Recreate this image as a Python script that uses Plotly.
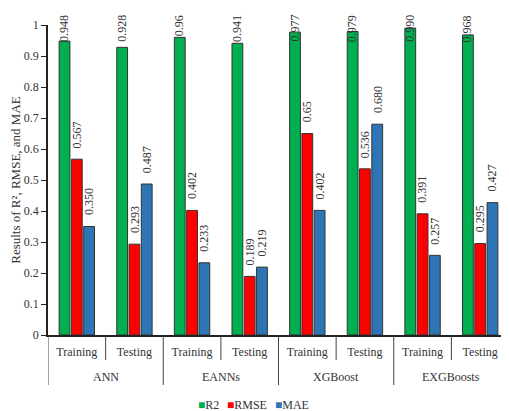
import plotly.graph_objects as go

models = ["ANN", "EANNs", "XGBoost", "EXGBoosts"]
phases = ["Training", "Testing"]
r2 = [0.948, 0.928, 0.96, 0.941, 0.977, 0.979, 0.990, 0.968]
rmse = [0.567, 0.293, 0.402, 0.189, 0.65, 0.536, 0.391, 0.295]
mae = [0.350, 0.487, 0.233, 0.219, 0.402, 0.680, 0.257, 0.427]
r2_labels = ["0.948", "0.928", "0.96", "0.941", "0.977", "0.979", "0.990", "0.968"]
rmse_labels = ["0.567", "0.293", "0.402", "0.189", "0.65", "0.536", "0.391", "0.295"]
mae_labels = ["0.350", "0.487", "0.233", "0.219", "0.402", "0.680", "0.257", "0.427"]
yticks = [0, 0.1, 0.2, 0.3, 0.4, 0.5, 0.6, 0.7, 0.8, 0.9, 1]
series_names = ["R2", "RMSE", "MAE"]
series_colors = ["#00B050", "#FF0000", "#2E75B6"]

inner = [p for _ in models for p in phases]
xpos = list(range(len(inner)))
n = len(inner)
y_min, y_max = 0, 1

font_family = "Liberation Serif, Times New Roman, serif"
txt_color = "#333"
series = list(zip(series_names, [r2, rmse, mae], [r2_labels, rmse_labels, mae_labels], series_colors))

# bar geometry (data units of the category axis)
group_w = 0.64
slot = group_w / len(series)
bar_w = slot * 0.88
plot_h_px = 310.0
label_gap = 9 / plot_h_px
char_len = 5.4 / plot_h_px
label_cap = 1 + 12 / plot_h_px


def to_paper(v):
    return (v - y_min) / (y_max - y_min)


fig = go.Figure()
annotations = []
for si, (name, vals, labels, color) in enumerate(series):
    off = -group_w / 2 + si * slot + (slot - bar_w) / 2
    fig.add_trace(go.Bar(
        x=xpos, y=vals, name=name, width=bar_w, offset=off,
        marker=dict(color=color, line=dict(color="#333", width=1)),
        showlegend=False, hoverinfo="x+y+name",
    ))
    for xi, v, lab in zip(xpos, vals, labels):
        cx = xi + off + bar_w / 2
        bottom = to_paper(v) + label_gap
        if bottom + char_len * len(lab) > label_cap:
            y, anchor = label_cap, "top"
        else:
            y, anchor = bottom, "bottom"
        annotations.append(dict(
            x=cx, y=y, xref="x", yref="paper", text=lab, textangle=-90,
            showarrow=False, xanchor="center", yanchor=anchor,
            font=dict(family=font_family, size=12, color=txt_color),
        ))

shapes = []
for k in range(n + 1):
    long_div = (k % len(phases) == 0)
    shapes.append(dict(
        type="line", xref="x", yref="paper", x0=k - 0.5, x1=k - 0.5,
        y0=0, y1=-50 / plot_h_px if long_div else -25 / plot_h_px,
        line=dict(color="#444", width=1),
    ))

for i, m in enumerate(models):
    annotations.append(dict(
        x=i * len(phases) + (len(phases) - 1) / 2, y=-42 / plot_h_px, xref="x", yref="paper",
        text=m, showarrow=False, yanchor="middle",
        font=dict(family=font_family, size=12, color=txt_color),
    ))

# legend row (square swatch + name), laid out left to right
legend_x = [0.322, 0.385, 0.488]
for lx, name, color in zip(legend_x, series_names, series_colors):
    annotations.append(dict(
        x=lx, y=-70 / plot_h_px, xref="paper", yref="paper", xanchor="left", yanchor="middle",
        text=f'<span style="color:{color}">■</span>{name}', showarrow=False,
        font=dict(family=font_family, size=12, color=txt_color),
    ))

# the page body keeps its default 8px margin, so the figure is 8px smaller
fig.update_layout(
    width=501, height=403,
    margin=dict(l=40, r=0, t=17, b=76, autoexpand=False),
    barmode="overlay",
    plot_bgcolor="white", paper_bgcolor="white",
    font=dict(family=font_family, size=12, color=txt_color),
    showlegend=False,
    shapes=shapes, annotations=annotations,
)
fig.update_xaxes(
    range=[-0.5, n - 0.5], tickvals=xpos, ticktext=inner,
    showline=True, linecolor="#222", linewidth=1.5, ticks="", showgrid=False,
    zeroline=False, automargin=False, ticklabelstandoff=5,
    tickfont=dict(family=font_family, size=12, color=txt_color),
)
fig.update_yaxes(
    range=[y_min, y_max], tickvals=yticks, ticktext=[f"{v:g}" for v in yticks],
    showline=True, linecolor="#222", linewidth=1.5, ticks="outside", ticklen=5,
    tickcolor="#222", showgrid=False, zeroline=False, automargin=False,
    title=dict(text="Results of R², RMSE, and MAE", font=dict(family=font_family, size=13), standoff=6),
    tickfont=dict(family=font_family, size=12, color=txt_color),
)
fig.write_html("out.html", config={"displayModeBar": False})
